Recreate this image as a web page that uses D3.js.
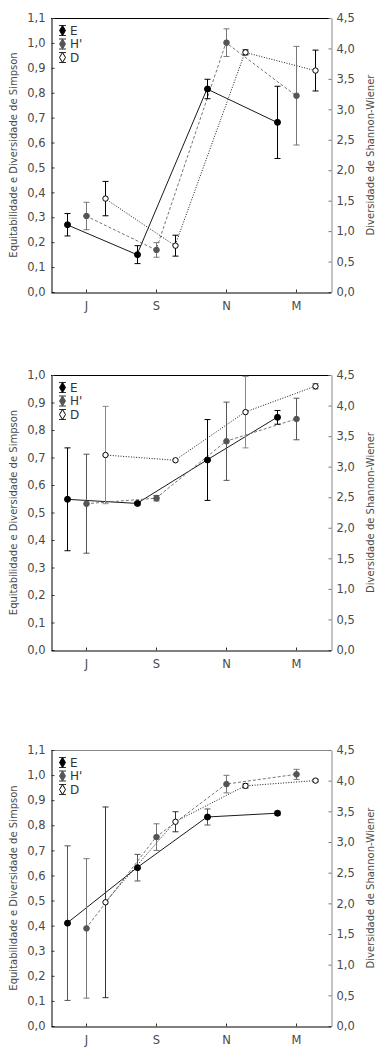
<!DOCTYPE html>
<html>
<head>
<meta charset="utf-8">
<script src="https://cdn.jsdelivr.net/npm/d3@7"></script>
<style>
  html, body { margin: 0; padding: 0; background: #fff; }
  svg { display: block; }
  text { font-family: "DejaVu Sans", Verdana, sans-serif; }
</style>
</head>
<body>
<div id="chart"></div>
<script>
// ---------------- DATA ----------------
const categories = ["J", "S", "N", "M"];
const seriesNames = ["E", "H'", "D"];

const leftTicks11 = [0, 0.1, 0.2, 0.3, 0.4, 0.5, 0.6, 0.7, 0.8, 0.9, 1.0, 1.1];
const leftTicks10 = [0, 0.1, 0.2, 0.3, 0.4, 0.5, 0.6, 0.7, 0.8, 0.9, 1.0];
const rightTicks = [0, 0.5, 1.0, 1.5, 2.0, 2.5, 3.0, 3.5, 4.0, 4.5];

const leftTitle = "Equitabilidade e Diversidade de Simpson";
const rightTitle = "Diversidade de Shannon-Wiener";

// Panel 1 (E and D on left axis, H' on right axis)
const p1E    = [0.270, 0.150, 0.815, 0.681];
const p1Eerr = [0.045, 0.036, 0.039, 0.145];
const p1H    = [1.248, 0.691, 4.095, 3.224];
const p1Herr = [0.225, 0.120, 0.227, 0.810];
const p1D    = [0.375, 0.186, 0.962, 0.889];
const p1Derr = [0.069, 0.042, 0.010, 0.082];

// Panel 2
const p2E    = [0.548, 0.533, 0.691, 0.846];
const p2Eerr = [0.187, 0.005, 0.147, 0.025];
const p2H    = [2.394, 2.484, 3.416, 3.780];
const p2Herr = [0.810, 0.045, 0.640, 0.340];
const p2D    = [0.709, 0.690, 0.865, 0.959];
const p2Derr = [0.177, 0.000, 0.130, 0.010];

// Panel 3
const p3E    = [0.410, 0.631, 0.833, 0.848];
const p3Eerr = [0.308, 0.053, 0.032, 0.008];
const p3H    = [1.591, 3.080, 3.944, 4.103];
const p3Herr = [1.137, 0.217, 0.143, 0.082];
const p3D    = [0.493, 0.814, 0.957, 0.978];
const p3Derr = [0.380, 0.040, 0.008, 0.005];

// ---------------- LAYOUT / STYLE ----------------
const W = 382, H = 1051;
const plotLeft = 51, plotRight = 331;

const panels = [
  { top: 18,  bottom: 292,  leftMax: 1.1, leftTicks: leftTicks11, topColor: "#000",
    E: p1E, Eerr: p1Eerr, H: p1H, Herr: p1Herr, D: p1D, Derr: p1Derr,
    barColors: ["#000", "#777", "#000"] },
  { top: 375, bottom: 650,  leftMax: 1.0, leftTicks: leftTicks10, topColor: "#000",
    E: p2E, Eerr: p2Eerr, H: p2H, Herr: p2Herr, D: p2D, Derr: p2Derr,
    barColors: ["#000", "#555", "#888"] },
  { top: 750, bottom: 1026, leftMax: 1.1, leftTicks: leftTicks11, topColor: "#888",
    E: p3E, Eerr: p3Eerr, H: p3H, Herr: p3Herr, D: p3D, Derr: p3Derr,
    barColors: ["#555", "#777", "#333"] }
];

const seriesStyle = {
  "E":  { line: "#000", dash: null,    fill: "#000", stroke: "#000", r: 3.0 },
  "H'": { line: "#666", dash: "3,2",   fill: "#555", stroke: "#555", r: 2.8 },
  "D":  { line: "#000", dash: "1,1.6", fill: "#fff", stroke: "#000", r: 2.7 }
};

const fmt = v => d3.format(".1f")(v).replace(".", ",");

const svg = d3.select("#chart").append("svg")
  .attr("width", W).attr("height", H);

const x = d3.scalePoint().domain(categories).range([plotLeft, plotRight]).padding(0.5);
const offset = d3.scalePoint().domain(seriesNames).range([-19, 19]);

panels.forEach(p => {
  const g = svg.append("g");
  const yL = d3.scaleLinear().domain([0, p.leftMax]).range([p.bottom, p.top]);
  const yR = d3.scaleLinear().domain([0, 4.5]).range([p.bottom, p.top]);

  // top border
  g.append("line")
    .attr("x1", plotLeft).attr("x2", plotRight)
    .attr("y1", p.top + 0.5).attr("y2", p.top + 0.5)
    .attr("stroke", p.topColor).attr("stroke-width", 1);

  // axes
  const axL = g.append("g").attr("transform", `translate(${plotLeft + 0.5},0)`)
    .call(d3.axisLeft(yL).tickValues(p.leftTicks).tickFormat(fmt)
      .tickSizeInner(-3).tickSizeOuter(0).tickPadding(6));
  const axR = g.append("g").attr("transform", `translate(${plotRight + 0.5},0)`)
    .call(d3.axisRight(yR).tickValues(rightTicks).tickFormat(fmt)
      .tickSizeInner(-3).tickSizeOuter(0).tickPadding(5));
  const axB = g.append("g").attr("transform", `translate(0,${p.bottom + 0.5})`)
    .call(d3.axisBottom(x).tickSizeInner(-3).tickSizeOuter(0).tickPadding(9));

  [axL, axR, axB].forEach(a => {
    a.selectAll("text").attr("font-size", 11.5).attr("fill", "#4a4a4a");
    a.selectAll(".tick line").attr("stroke", "#333");
  });
  axL.select(".domain").attr("stroke", "#000");
  axB.select(".domain").attr("stroke", "#000");
  axR.select(".domain").attr("stroke", "#888");
  axR.selectAll(".tick line").attr("stroke", "#777");

  // axis titles
  const mid = (p.top + p.bottom) / 2;
  g.append("text")
    .attr("transform", `translate(17,${mid}) rotate(-90)`)
    .attr("text-anchor", "middle")
    .attr("font-size", 10).attr("fill", "#4a4a4a")
    .text(leftTitle);
  g.append("text")
    .attr("transform", `translate(374,${mid}) rotate(-90)`)
    .attr("text-anchor", "middle")
    .attr("font-size", 10).attr("fill", "#4a4a4a")
    .text(rightTitle);

  const seriesDefs = [
    { name: "E",  vals: p.E, errs: p.Eerr, y: yL, barColor: p.barColors[0] },
    { name: "H'", vals: p.H, errs: p.Herr, y: yR, barColor: p.barColors[1] },
    { name: "D",  vals: p.D, errs: p.Derr, y: yL, barColor: p.barColors[2] }
  ];

  // lines first
  seriesDefs.forEach(s => {
    const st = seriesStyle[s.name];
    const pts = categories.map((c, i) => ({ c, v: s.vals[i], e: s.errs[i] }));
    const line = d3.line()
      .x(d => x(d.c) + offset(s.name))
      .y(d => s.y(d.v));
    g.append("path")
      .datum(pts)
      .attr("d", line)
      .attr("fill", "none")
      .attr("stroke", st.line)
      .attr("stroke-width", 0.9)
      .attr("stroke-dasharray", st.dash);
  });

  // error bars and markers
  seriesDefs.forEach(s => {
    const st = seriesStyle[s.name];
    const pts = categories.map((c, i) => ({ c, v: s.vals[i], e: s.errs[i] }));
    const eg = g.append("g");
    pts.forEach(d => {
      const cx = Math.round(x(d.c) + offset(s.name)) + 0.5;
      if (d.e > 0) {
        const y1 = s.y(d.v + d.e), y2 = s.y(d.v - d.e);
        eg.append("line").attr("x1", cx).attr("x2", cx).attr("y1", y1).attr("y2", y2)
          .attr("stroke", s.barColor).attr("stroke-width", 1);
        [y1, y2].forEach(yy => {
          eg.append("line").attr("x1", cx - 3).attr("x2", cx + 3)
            .attr("y1", yy).attr("y2", yy)
            .attr("stroke", s.barColor).attr("stroke-width", 1);
        });
      }
    });
    g.append("g").selectAll("circle").data(pts).join("circle")
      .attr("cx", d => Math.round(x(d.c) + offset(s.name)) + 0.5)
      .attr("cy", d => s.y(d.v))
      .attr("r", st.r)
      .attr("fill", st.fill)
      .attr("stroke", st.stroke)
      .attr("stroke-width", 1);
  });

  // legend
  const lg = g.append("g");
  seriesNames.forEach((name, i) => {
    const st = seriesStyle[name];
    const ly = p.top + 12.5 + i * 13.5;
    const lx = 62.5;
    lg.append("line").attr("x1", lx).attr("x2", lx).attr("y1", ly - 5).attr("y2", ly + 5)
      .attr("stroke", "#333");
    [ly - 5, ly + 5].forEach(yy => lg.append("line")
      .attr("x1", lx - 3.5).attr("x2", lx + 3.5).attr("y1", yy).attr("y2", yy)
      .attr("stroke", "#333"));
    lg.append("path")
      .attr("d", d3.symbol(d3.symbolDiamond, 30)())
      .attr("transform", `translate(${lx},${ly})`)
      .attr("fill", st.fill).attr("stroke", st.stroke).attr("stroke-width", 1);
    lg.append("text").attr("x", 70).attr("y", ly).attr("dy", "0.36em")
      .attr("font-size", 12).attr("fill", "#333").text(name);
  });
});
</script>
</body>
</html>
